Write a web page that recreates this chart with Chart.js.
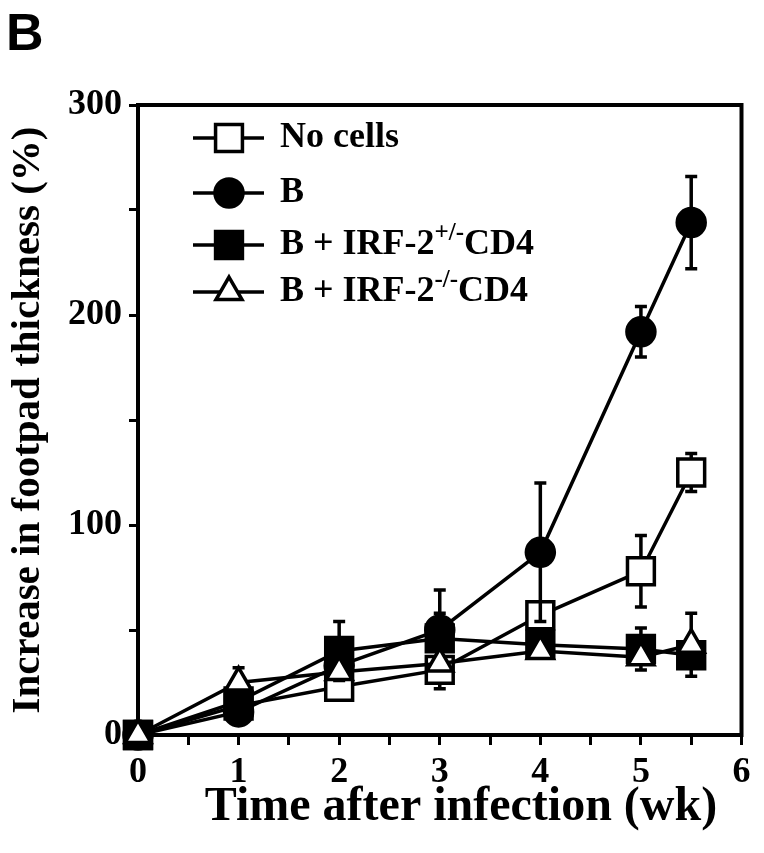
<!DOCTYPE html>
<html>
<head>
<meta charset="utf-8">
<script src="https://cdn.jsdelivr.net/npm/chart.js@4.4.1/dist/chart.umd.min.js"></script>
<style>
  body { margin: 0; background: #fff; }
  #wrap { position: relative; width: 764px; height: 853px; }
  #panel { position: absolute; left: 6px; top: 2px; font: bold 52px "Liberation Sans", Arial, sans-serif; color: #000; }
</style>
</head>
<body>
<div id="wrap">
  <canvas id="chart"></canvas>
  <div id="panel">B</div>
</div>
<script>
// Weeks after infection
const weeks = [0, 1, 2, 3, 4, 5, 5.5];

// Increase in footpad thickness (%)
const noCells = [0, 14, 23, 31, 57, 78, 125];
const bOnly = [0, 11, 33, 50, 87, 192, 244];
const bHet = [0, 16, 40, 46, 43, 41, 38];
const bKo = [0, 25, 30, 34, 40, 37, 43];

// Error bars (null = not visible)
const noCellsErr = [null, null, null, 9, null, 17, 9];
const bOnlyErr = [null, null, null, 19, 33, 12, 22];
const bHetErr = [null, null, 14, 12, null, 10, null];
const bKoErr = [null, 7, null, null, null, null, 15];

const yTicks = [0, 100, 200, 300];
const xTicks = [0, 1, 2, 3, 4, 5, 6];
const xTitle = 'Time after infection (wk)';

const serif = '"Liberation Serif", "Times New Roman", serif';
Chart.defaults.font.family = serif;
Chart.defaults.font.weight = 'bold';
Chart.defaults.color = '#000';

function points(values) {
    return weeks.map((w, i) => ({ x: w, y: values[i] }));
}

const errorSets = [noCellsErr, bOnlyErr, bHetErr, bKoErr];

// Draw each series' error bars just before the series itself
const errorBars = {
    id: 'errorBars',
    beforeDatasetDraw(chart, args) {
        const errs = errorSets[args.index];
        const ds = chart.data.datasets[args.index];
        const ctx = chart.ctx;
        const xs = chart.scales.x, ys = chart.scales.y;
        ctx.save();
        ctx.strokeStyle = '#000';
        ctx.lineWidth = 3.5;
        ds.data.forEach((p, i) => {
            const e = errs[i];
            if (e == null) return;
            const px = xs.getPixelForValue(p.x);
            const top = ys.getPixelForValue(p.y + e);
            const bot = ys.getPixelForValue(p.y - e);
            ctx.beginPath();
            ctx.moveTo(px, top); ctx.lineTo(px, bot);
            ctx.moveTo(px - 6, top); ctx.lineTo(px + 6, top);
            ctx.moveTo(px - 6, bot); ctx.lineTo(px + 6, bot);
            ctx.stroke();
        });
        ctx.restore();
    }
};

// Box around the plot area, plus the x axis title (set a little right of centre)
const frame = {
    id: 'frame',
    beforeDatasetsDraw(chart) {
        const { ctx, chartArea: a } = chart;
        ctx.save();
        ctx.strokeStyle = '#000';
        ctx.lineWidth = 4;
        ctx.strokeRect(a.left, a.top, a.right - a.left, a.bottom - a.top);
        ctx.fillStyle = '#000';
        ctx.font = 'bold 48px ' + serif;
        ctx.textAlign = 'center';
        ctx.textBaseline = 'middle';
        ctx.fillText(xTitle, 461, 808);
        ctx.restore();
    }
};

// Legend inside the plot, with superscripts
const legendBox = {
    id: 'legendBox',
    afterDraw(chart) {
        const ctx = chart.ctx;
        const rows = [138, 193, 245, 292];
        const labels = [
            [['No cells', 0]],
            [['B', 0]],
            [['B + IRF-2', 0], ['+/-', 1], ['CD4', 0]],
            [['B + IRF-2', 0], ['-/-', 1], ['CD4', 0]]
        ];
        ctx.save();
        chart.data.datasets.forEach((ds, i) => {
            const y = rows[i];
            ctx.strokeStyle = '#000';
            ctx.lineWidth = 3.5;
            ctx.beginPath();
            ctx.moveTo(193, y); ctx.lineTo(264, y);
            ctx.stroke();
            ctx.fillStyle = ds.pointBackgroundColor;
            ctx.strokeStyle = '#000';
            ctx.lineWidth = ds.pointBorderWidth;
            Chart.helpers.drawPoint(ctx, {
                pointStyle: ds.pointStyle,
                rotation: 0,
                radius: ds.pointRadius,
                borderWidth: ds.pointBorderWidth
            }, 229, y);
            let tx = 280;
            ctx.fillStyle = '#000';
            ctx.textBaseline = 'middle';
            ctx.textAlign = 'left';
            labels[i].forEach(([t, sup]) => {
                ctx.font = sup ? 'bold 25px ' + serif : 'bold 36px ' + serif;
                ctx.fillText(t, tx, sup ? y - 11 : y);
                tx += ctx.measureText(t).width;
            });
        });
        ctx.restore();
    }
};

function series(label, values, style, fill, radius, order) {
    return {
        label: label,
        data: points(values),
        showLine: true,
        borderColor: '#000',
        borderWidth: 3.5,
        pointStyle: style,
        pointRadius: radius,
        pointBackgroundColor: fill,
        pointBorderColor: '#000',
        pointBorderWidth: 3.5,
        clip: false,
        order: order
    };
}

new Chart(document.getElementById('chart'), {
    type: 'scatter',
    data: {
        datasets: [
            series('No cells', noCells, 'rect', '#fff', 19, 4),
            series('B', bOnly, 'circle', '#000', 14, 3),
            series('B + IRF-2+/-CD4', bHet, 'rect', '#000', 19, 2),
            series('B + IRF-2-/-CD4', bKo, 'triangle', '#fff', 15, 1)
        ]
    },
    options: {
        responsive: true,
        maintainAspectRatio: false,
        animation: false,
        events: [],
        layout: { padding: { top: 105, right: 14, left: 0, bottom: 0 } },
        plugins: { legend: { display: false }, tooltip: { enabled: false } },
        scales: {
            x: {
                type: 'linear',
                min: 0,
                max: 6,
                afterFit: s => { s.height = 118; },
                afterBuildTicks: s => { s.ticks = [0, 0.5, 1, 1.5, 2, 2.5, 3, 3.5, 4, 4.5, 5, 5.5, 6].map(v => ({ value: v })); },
                ticks: {
                    font: { size: 36, weight: 'bold' },
                    padding: 6,
                    maxRotation: 0,
                    autoSkip: false,
                    callback: v => xTicks.includes(v) ? v : ''
                },
                grid: { drawOnChartArea: false, tickLength: 10, tickWidth: 3, tickColor: '#000' },
                border: { display: true, color: '#000', width: 4 },
                title: { display: false }
            },
            y: {
                min: 0,
                max: 300,
                afterFit: s => { s.width = 138; },
                afterBuildTicks: s => { s.ticks = [0, 50, 100, 150, 200, 250, 300].map(v => ({ value: v })); },
                ticks: {
                    font: { size: 36, weight: 'bold' },
                    padding: 7,
                    autoSkip: false,
                    callback: v => yTicks.includes(v) ? v : ''
                },
                grid: { drawOnChartArea: false, tickLength: 9, tickWidth: 3, tickColor: '#000' },
                border: { display: true, color: '#000', width: 4 },
                title: {
                    display: true,
                    text: 'Increase in footpad thickness (%)',
                    font: { size: 41, weight: 'bold' },
                    padding: { top: 4, bottom: 0 }
                }
            }
        }
    },
    plugins: [errorBars, frame, legendBox]
});
</script>
</body>
</html>
